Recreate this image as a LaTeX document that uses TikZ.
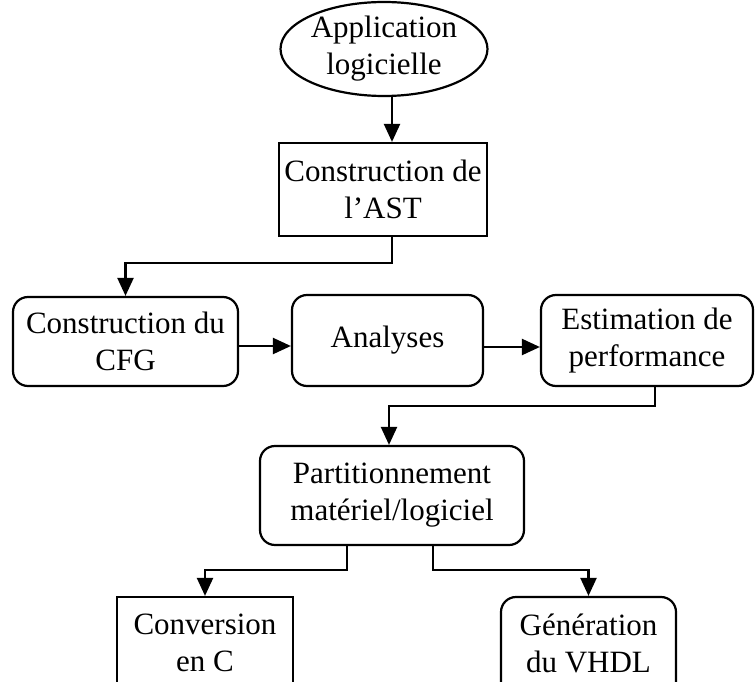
\documentclass[tikz,border=0pt]{standalone}
\usepackage{fontspec}
\setmainfont{Liberation Serif}
\usetikzlibrary{arrows.meta,shapes.geometric}
\begin{document}
\begin{tikzpicture}[x=1pt,y=-1pt,
  every node/.style={font=\fontsize{31}{37}\selectfont, align=center, inner sep=0pt},
  boxsq/.style={draw, line width=2.2pt, rectangle, minimum width=#1},
  boxrd/.style={draw, line width=2.2pt, rectangle, rounded corners=15pt, minimum width=#1},
  oval/.style={draw, line width=2.2pt, ellipse, minimum width=206pt, minimum height=94pt},
  arr/.style={line width=2.2pt, -{Triangle[length=18pt,width=16pt]}}]
\useasboundingbox (0,0) rectangle (755,682);
\clip (0,0) rectangle (755,682);
% nodes
\node[oval] (app) at (384,49) {Application\\logicielle};
\node[boxsq=208pt, minimum height=93pt] (ast) at (383,189.5) {Construction de\\l'AST};
\node[boxrd=225pt, minimum height=89pt] (cfg) at (125.5,341.5) {Construction du\\CFG};
\node[boxrd=191pt, minimum height=91pt] (ana) at (387.5,340.5) {Analyses};
\node[boxrd=212pt, minimum height=91pt] (est) at (647,340.5) {Estimation de\\performance};
\node[boxrd=264pt, minimum height=99pt] (part) at (392,495.5) {Partitionnement\\matériel/logiciel};
% the two output boxes run on past the lower edge
\node[boxsq=176pt, minimum height=110pt] (conv) at (205,652) {};
\node[boxrd=175pt, minimum height=110pt] (gen) at (588.5,652) {};
\node (convt) at (205,643) {Conversion\\en C};
\node (gent) at (588.5,643) {Génération\\du VHDL};
% bend points and row levels of the connectors
\coordinate (r1) at (0,346);
\coordinate (r2) at (0,347);
\coordinate (k1) at (392,263);
\coordinate (k2) at (389,406);
\coordinate (k3) at (205,570);
\coordinate (k4) at (588.5,570);
% connectors
\draw[arr] ([xshift=8pt]app.south) -- ([xshift=9pt]ast.north);
\draw[arr] ([xshift=9pt]ast.south) |- (k1) -| (cfg.north);
\draw[arr] (cfg.east |- r1) -- (ana.west |- r1);
\draw[arr] (ana.east |- r2) -- (est.west |- r2);
\draw[arr] ([xshift=8pt]est.south) |- (k2) -- (k2 |- part.north);
\draw[arr] ([xshift=-45pt]part.south) |- (k3) -- (conv.north);
\draw[arr] ([xshift=41pt]part.south) |- (k4) -- (gen.north);
\end{tikzpicture}
\end{document}
